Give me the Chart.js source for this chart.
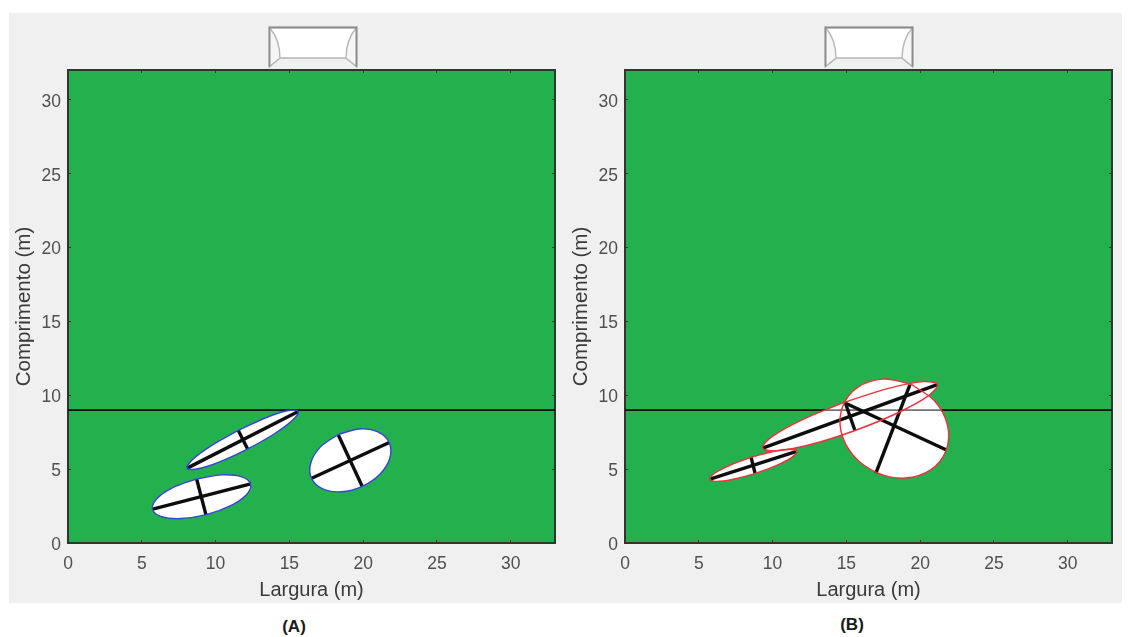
<!DOCTYPE html>
<html>
<head>
<meta charset="utf-8">
<title>Largura x Comprimento</title>
<script src="https://cdn.jsdelivr.net/npm/chart.js@4"></script>
<style>
  html, body { margin: 0; padding: 0; background: #fff; }
  body { position: relative; width: 1131px; height: 637px; overflow: hidden; font-family: "Liberation Sans", Arial, sans-serif; }
  #panel { position: absolute; left: 9px; top: 13px; width: 1113px; height: 590px; background: #f0f0f0; }
  .box { position: absolute; top: 12px; width: 555px; height: 591px; }
  #boxA { left: 10px; }
  #boxB { left: 567px; }
  .goal { position: absolute; top: 25px; }
  .tag { position: absolute; font-size: 17px; font-weight: bold; color: #1a1a1a; transform: translateX(-50%); }
</style>
</head>
<body>
<div id="panel"></div>
<div class="box" id="boxA"><canvas id="chartA" width="555" height="591"></canvas></div>
<div class="box" id="boxB"><canvas id="chartB" width="555" height="591"></canvas></div>

<svg class="goal" style="left:267px" width="92" height="44" viewBox="0 0 92 44">
  <path d="M2.5 2.5H89.5V41.5L79 33H13L2.5 41.5Z" fill="#fff" stroke="#b4b4b4" stroke-width="1.6"/>
  <path d="M2.5 2.5C9 10 13 20 13 33L2.5 41.5ZM89.5 2.5C83 10 79 20 79 33L89.5 41.5Z" fill="#f6f6f6" stroke="#b8b8b8" stroke-width="1.4"/>
  <path d="M2.5 41.5V2.5H89.5V41.5" fill="none" stroke="#8c8c8c" stroke-width="1.8"/>
</svg>
<svg class="goal" style="left:823px" width="92" height="44" viewBox="0 0 92 44">
  <path d="M2.5 2.5H89.5V41.5L79 33H13L2.5 41.5Z" fill="#fff" stroke="#b4b4b4" stroke-width="1.6"/>
  <path d="M2.5 2.5C9 10 13 20 13 33L2.5 41.5ZM89.5 2.5C83 10 79 20 79 33L89.5 41.5Z" fill="#f6f6f6" stroke="#b8b8b8" stroke-width="1.4"/>
  <path d="M2.5 41.5V2.5H89.5V41.5" fill="none" stroke="#8c8c8c" stroke-width="1.8"/>
</svg>

<div class="tag" style="left:294px;top:617px">(A)</div>
<div class="tag" style="left:852px;top:615px">(B)</div>

<script>
const xTitle = 'Largura (m)';
const yTitle = 'Comprimento (m)';
const xMax = 33;
const yMax = 32.03;
const tickStep = 5;
const lineY = 9;

// Panel A outlines
const ellipseA1 = [[8.73,4.34],[7.11,3.75],[6.02,3.00],[5.73,2.28],[6.34,1.79],[7.67,1.66],[9.37,1.92],[10.99,2.51],[12.09,3.27],[12.37,3.99],[11.77,4.48],[10.43,4.61]];
const ellipseA2 = [[11.53,7.62],[9.69,6.58],[8.43,5.64],[8.08,5.07],[8.74,5.01],[10.23,5.48],[12.15,6.36],[13.99,7.40],[15.25,8.34],[15.60,8.91],[14.94,8.97],[13.45,8.50]];
const ellipseA3 = [[18.32,7.35],[17.11,6.51],[16.45,5.42],[16.50,4.38],[17.26,3.66],[18.52,3.47],[19.94,3.84],[21.15,4.68],[21.81,5.76],[21.76,6.80],[21.00,7.52],[19.74,7.72]];

// Panel A axes of each ellipse
const crossA = [
  [[5.74,2.29],[12.38,4.00]], [[8.72,4.32],[9.35,1.90]],
  [[8.08,5.07],[15.60,8.91]], [[11.54,7.62],[12.17,6.36]],
  [[16.51,4.39],[21.77,6.81]], [[18.31,7.33],[19.94,3.82]],
];

// Panel B outlines
const ellipseB1 = [[8.56,5.81],[7.11,5.26],[6.08,4.72],[5.76,4.32],[6.22,4.17],[7.34,4.32],[8.83,4.72],[10.28,5.26],[11.30,5.80],[11.63,6.20],[11.16,6.35],[10.04,6.20]];
const ellipseB2 = [[14.92,9.55],[12.00,8.34],[9.96,7.20],[9.33,6.43],[10.29,6.24],[12.58,6.67],[15.59,7.62],[18.50,8.82],[20.55,9.96],[21.17,10.73],[20.21,10.93],[17.92,10.49]];
const ellipseB3 = [[19.40,10.75],[17.50,11.10],[15.79,10.55],[14.75,9.25],[14.64,7.55],[15.50,5.90],[17.10,4.75],[19.00,4.40],[20.71,4.95],[21.75,6.25],[21.86,7.95],[21.00,9.60]];

// Panel B axes of each ellipse
const crossB = [
  [[5.76,4.32],[11.63,6.20]], [[8.54,5.82],[8.81,4.73]],
  [[9.33,6.43],[21.16,10.73]], [[14.91,9.55],[15.58,7.62]],
  [[14.91,9.48],[21.75,6.31]], [[19.31,10.73],[17.00,4.73]],
];

const toPoints = (pairs) => pairs.map(([x, y]) => ({ x, y }));
const closed = (pairs) => toPoints(pairs.concat([pairs[0]]));

// Green field behind everything
const fieldPlugin = {
  id: 'field',
  beforeDraw(c) {
    const a = c.chartArea;
    c.ctx.save();
    c.ctx.fillStyle = '#23b14d';
    c.ctx.fillRect(a.left, a.top, a.width, a.height);
    c.ctx.restore();
  },
};

function buildDatasets(ellipses, crosses, outlineColor) {
  const sets = [];
  const hLine = [{ x: 0, y: lineY }, { x: xMax, y: lineY }];
  sets.push({ data: hLine, borderColor: '#1c2a20', borderWidth: 1.6, order: 50 });
  ellipses.forEach((e) => {
    sets.push({ data: closed(e), borderColor: 'transparent', borderWidth: 0, backgroundColor: '#fff', fill: 'shape', tension: 0.35, order: 40 });
  });
  // the line shows through the white shapes as grey
  sets.push({ data: hLine, borderColor: 'rgba(0,0,0,0.55)', borderWidth: 1.6, order: 30 });
  crosses.forEach((c) => {
    sets.push({ data: toPoints(c), borderColor: '#0d0d0d', borderWidth: 3.4, order: 25 });
  });
  ellipses.forEach((e) => {
    sets.push({ data: closed(e), borderColor: outlineColor, borderWidth: 1.4, tension: 0.35, order: 20 });
  });
  return sets;
}

function sideScale(position) {
  const horizontal = position === 'top';
  return {
    type: 'linear',
    position,
    min: 0,
    max: horizontal ? xMax : yMax,
    afterFit: (s) => { if (horizontal) s.height = 58; else s.width = 10; },
    border: { color: '#333', width: 2 },
    grid: { drawOnChartArea: false, tickLength: -3, color: '#333' },
    ticks: { display: false, stepSize: tickStep, includeBounds: false },
  };
}

function makeChart(id, ellipses, crosses, outlineColor) {
  const tickFont = { family: '"Liberation Sans", Arial, sans-serif', size: 17.5 };
  const titleFont = { family: '"Liberation Sans", Arial, sans-serif', size: 20 };
  const yTitleFont = { family: '"Liberation Sans", Arial, sans-serif', size: 20.5 };
  return new Chart(document.getElementById(id), {
    type: 'scatter',
    data: { datasets: buildDatasets(ellipses, crosses, outlineColor) },
    options: {
      responsive: false,
      animation: false,
      showLine: true,
      elements: { point: { radius: 0 } },
      layout: { padding: 0 },
      plugins: { legend: { display: false }, tooltip: { enabled: false } },
      scales: {
        x: {
          type: 'linear',
          position: 'bottom',
          min: 0,
          max: xMax,
          afterFit: (s) => { s.height = 60; },
          border: { color: '#333', width: 2 },
          grid: { drawOnChartArea: false, tickLength: -3, color: '#333' },
          ticks: { stepSize: tickStep, includeBounds: false, maxRotation: 0, color: '#505050', font: tickFont, padding: 14 },
          title: { display: true, text: xTitle, color: '#3a3a3a', font: titleFont, padding: { top: 0, bottom: 1 } },
        },
        y: {
          type: 'linear',
          position: 'left',
          min: 0,
          max: yMax,
          afterFit: (s) => { s.width = 58; },
          border: { color: '#333', width: 2 },
          grid: { drawOnChartArea: false, tickLength: -3, color: '#333' },
          ticks: { stepSize: tickStep, includeBounds: false, color: '#505050', font: tickFont, padding: 10, labelOffset: 2 },
          title: { display: true, text: yTitle, color: '#3a3a3a', font: yTitleFont, padding: { top: 2, bottom: 0 } },
        },
        x2: sideScale('top'),
        y2: sideScale('right'),
      },
    },
    plugins: [fieldPlugin],
  });
}

makeChart('chartA', [ellipseA1, ellipseA2, ellipseA3], crossA, '#3b3fe0');
makeChart('chartB', [ellipseB1, ellipseB2, ellipseB3], crossB, '#f0303c');
</script>
</body>
</html>
